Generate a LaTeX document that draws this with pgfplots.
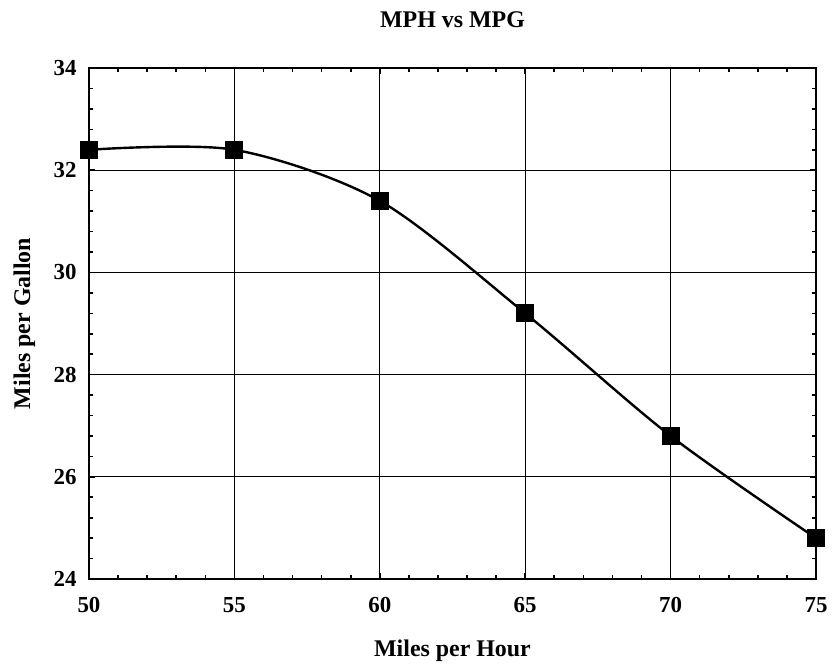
\documentclass[border=0pt]{standalone}
\usepackage{fontspec}
\setmainfont{Liberation Serif}
\usepackage{pgfplots}
\pgfplotsset{compat=1.18}

\begin{document}
\begin{tikzpicture}
\begin{axis}[
    scale only axis,
    width=727bp, height=511bp,
    xmin=50, xmax=75,
    ymin=24, ymax=34,
    xtick={50,55,60,65,70,75},
    ytick={24,26,28,30,32,34},
    minor x tick num=4,
    minor y tick num=4,
    tick align=inside,
    major tick length=6bp,
    minor tick length=4bp,
    every tick/.style={black, line width=1.6bp},
    axis line style={line width=2.5bp},
    grid=major,
    major grid style={black, line width=1.2bp},
    /pgf/number format/assume math mode=true,
    ticklabel style={font=\fontsize{23}{27}\selectfont\bfseries},
    xticklabel style={yshift=-15bp},
    yticklabel style={xshift=-9bp},
    title={MPH vs MPG},
    title style={font=\fontsize{24}{28}\selectfont\bfseries, at={(axis description cs:0.5,1)}, anchor=south, yshift=31bp},
    xlabel={Miles per Hour},
    xlabel style={font=\fontsize{24}{28}\selectfont\bfseries, at={(axis description cs:0.5,0)}, anchor=north, yshift=-57bp},
    ylabel={Miles per Gallon},
    ylabel style={font=\fontsize{24}{28}\selectfont\bfseries, at={(axis description cs:-0.069,0.5)}, anchor=south},
]
\addplot[black, line width=2.4bp, smooth, mark=square*, mark size=8bp,
    mark options={solid, fill=black, line width=2bp}] coordinates {
    (50,32.4) (55,32.4) (60,31.4) (65,29.2) (70,26.8) (75,24.8)
};
\coordinate (bl) at (axis description cs:-0.1224,-0.1703);
\coordinate (tr) at (axis description cs:1.022,1.1331);
\end{axis}
\path (bl) rectangle (tr);
\end{tikzpicture}
\end{document}
